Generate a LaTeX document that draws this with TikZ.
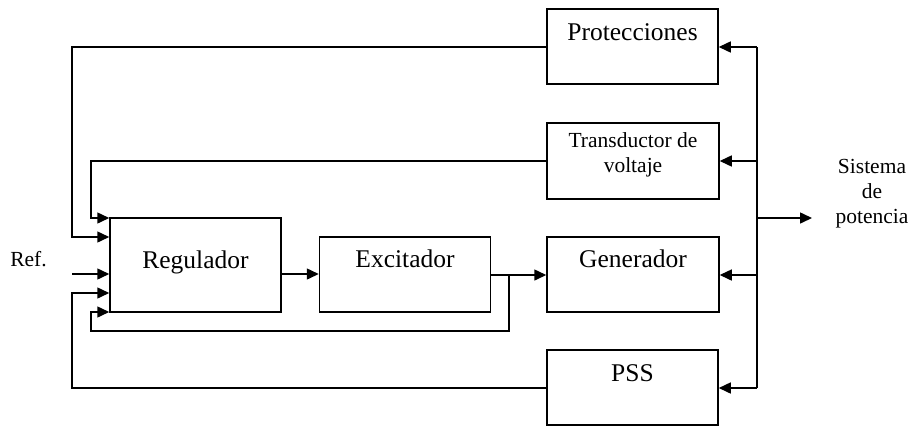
\documentclass[tikz,border=0pt]{standalone}
\usepackage{fontspec}
\setmainfont{Liberation Serif}
\usetikzlibrary{arrows.meta}
\begin{document}
\begin{tikzpicture}[x=1pt,y=-1pt,line width=1.5pt,
  blk/.style={draw,rectangle,inner sep=0pt},
  big/.style={font=\fontsize{25.5}{29}\selectfont,inner sep=0pt},
  small/.style={font=\fontsize{21.5}{25}\selectfont,align=center,inner sep=0pt},
  arr/.style={-{Triangle[length=12pt,width=11pt]}}]
\useasboundingbox (0,0) rectangle (909,426);
% boxes
\node[blk,minimum width=171,minimum height=94] (reg) at (195.5,265) {};
\node[blk,minimum width=171,minimum height=75] (exc) at (405,274.5) {};
\node[blk,minimum width=172,minimum height=75] (gen) at (633,274.5) {};
\node[blk,minimum width=171,minimum height=75] (prot) at (632.5,46.5) {};
\node[blk,minimum width=172,minimum height=76] (trans) at (633,161) {};
\node[blk,minimum width=171,minimum height=75] (pss) at (632.5,387.5) {};
% texts
\node[big] (regT) at (195.5,262) {Regulador};
\node[big] (excT) at (405,259) {Excitador};
\node[big] (genT) at (633,259) {Generador};
\node[big] (protT) at (632.5,32) {Protecciones};
\node[big] (pssT) at (632.5,373) {PSS};
\node[small] (transT) at (633,155) {Transductor de\\voltaje};
\node[small] (sysT) at (872,194) {Sistema\\de\\potencia};
\node[small] (refT) at (28.5,259) {Ref.};
% coordinates
\coordinate (busTop) at (757,47);
\coordinate (busTr) at (757,161);
\coordinate (busSys) at (757,218);
\coordinate (busGen) at (757,275);
\coordinate (busBot) at (757,388);
\coordinate (sysIn) at (812,218);
\coordinate (jn) at (509,275);
\coordinate (refIn) at (72,274);
% bus
\draw (busTop) -- (busBot);
\draw[arr] (busTop) -- (prot.east |- busTop);
\draw[arr] (busTr) -- (trans.east |- busTr);
\draw[arr] (busGen) -- (gen.east |- busGen);
\draw[arr] (busBot) -- (pss.east |- busBot);
\draw[arr] (busSys) -- (sysIn);
% forward path
\draw[arr] (reg.east |- refIn) -- (exc.west |- refIn);
\draw[arr] (exc.east |- jn) -- (gen.west |- jn);
% feedbacks
\draw[arr] (prot.west |- busTop) -- (72,47) -- (72,237) -- (reg.west |- {(0,237)});
\draw[arr] (trans.west) -- (91,161) -- (91,218) -- (reg.west |- {(0,218)});
\draw[arr] (refIn) -- (reg.west |- refIn);
\draw[arr] (pss.west |- busBot) -- (72,388) -- (72,293) -- (reg.west |- {(0,293)});
\draw[arr] (jn) -- (509,331) -- (91,331) -- (91,312) -- (reg.west |- {(0,312)});
\end{tikzpicture}
\end{document}
